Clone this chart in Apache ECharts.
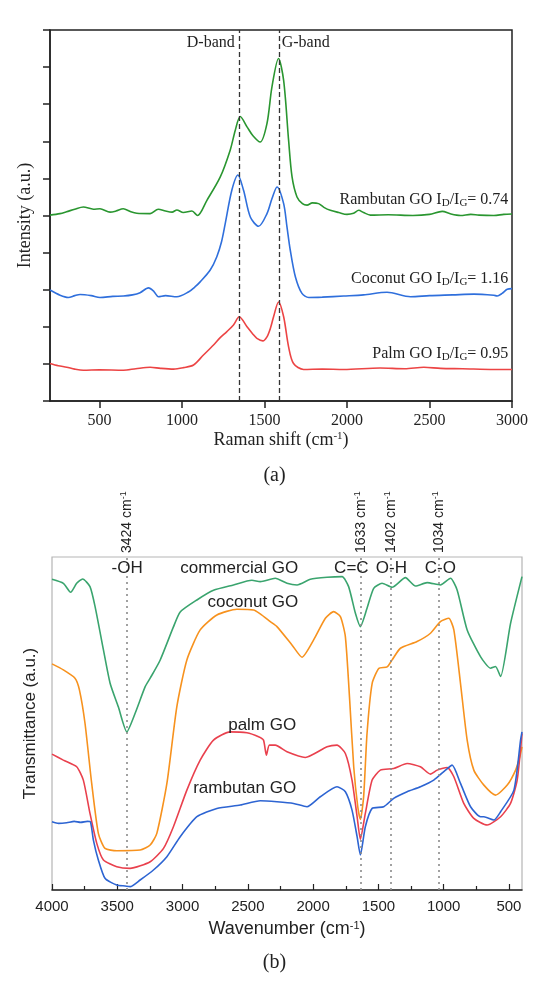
<!DOCTYPE html>
<html>
<head>
<meta charset="utf-8">
<script src="https://cdn.jsdelivr.net/npm/echarts@6/dist/echarts.min.js"></script>
<style>
  html, body { margin: 0; background: #fff; }
  #main { width: 549px; height: 996px; }
</style>
</head>
<body>
<div id="main"></div>
<script>
// ---- (a) Raman ----
const ramanTicks = [500, 1000, 1500, 2000, 2500, 3000];
const bandLines = [1345, 1587];
const idigRatios = ['0.74', '1.16', '0.95'];

const rambutanRamanX = [200, 260, 300, 350, 402, 463, 503, 564, 600, 644, 690, 726, 807, 856, 900, 940, 969, 1008, 1060, 1094, 1151, 1232, 1292, 1323, 1353, 1394, 1430, 1474, 1515, 1545, 1585, 1616, 1646, 1667, 1697, 1730, 1758, 1790, 1828, 1860, 1899, 1950, 2000, 2040, 2071, 2100, 2142, 2250, 2400, 2500, 2577, 2630, 2688, 2750, 2800, 2890, 2950, 3000];
const rambutanRamanY = [5.01, 5.05, 5.1, 5.17, 5.23, 5.17, 5.18, 5.09, 5.12, 5.18, 5.1, 5.06, 5.05, 5.17, 5.12, 5.09, 5.15, 5.08, 5.12, 5.0, 5.41, 6.04, 6.76, 7.3, 7.67, 7.39, 7.15, 6.98, 7.48, 8.46, 9.23, 8.64, 7.03, 6.04, 5.5, 5.32, 5.28, 5.34, 5.32, 5.22, 5.14, 5.08, 5.03, 5.06, 5.14, 5.08, 5.01, 5.02, 5.0, 5.03, 5.11, 5.04, 5.0, 5.03, 5.01, 5.0, 5.03, 5.04];

const coconutRamanX = [200, 261, 311, 350, 382, 450, 503, 580, 645, 700, 746, 797, 830, 857, 900, 969, 1039, 1080, 1110, 1171, 1211, 1240, 1262, 1302, 1339, 1373, 1414, 1464, 1515, 1545, 1576, 1616, 1636, 1656, 1687, 1727, 1768, 1850, 1980, 2100, 2243, 2385, 2500, 2640, 2769, 2890, 2910, 2940, 2971, 3000];
const coconutRamanY = [2.99, 2.85, 2.79, 2.84, 2.87, 2.84, 2.79, 2.82, 2.83, 2.86, 2.92, 3.05, 2.95, 2.81, 2.84, 2.81, 2.94, 3.08, 3.21, 3.53, 3.89, 4.3, 4.78, 5.68, 6.09, 5.68, 4.96, 4.71, 5.05, 5.45, 5.77, 5.32, 4.7, 4.07, 3.35, 2.9, 2.79, 2.8, 2.83, 2.86, 2.93, 2.81, 2.84, 2.86, 2.88, 2.85, 2.83, 2.9, 3.01, 3.03];

const palmRamanX = [200, 250, 301, 350, 402, 500, 645, 720, 807, 870, 948, 1010, 1070, 1130, 1191, 1230, 1272, 1312, 1347, 1394, 1430, 1454, 1490, 1515, 1535, 1555, 1585, 1616, 1646, 1676, 1737, 1850, 1980, 2200, 2350, 2466, 2567, 2700, 2890, 3000];
const palmRamanY = [1.01, 0.95, 0.91, 0.86, 0.83, 0.84, 0.83, 0.87, 0.91, 0.88, 0.86, 0.9, 0.97, 1.24, 1.51, 1.7, 1.87, 2.05, 2.27, 2.0, 1.8, 1.69, 1.62, 1.73, 1.95, 2.27, 2.67, 2.27, 1.46, 1.01, 0.85, 0.86, 0.85, 0.89, 0.87, 0.91, 0.88, 0.87, 0.85, 0.85];

// ---- (b) FTIR ----
const ftirTicks = [500, 1000, 1500, 2000, 2500, 3000, 3500, 4000];
const ftirMinorTicks = [750, 1250, 1750, 2250, 2750, 3250, 3750];
const peakMarks = [3424, 1633, 1402, 1034];
const groupNames = ['-OH', 'C=C', 'O-H', 'C-O'];
const groupPos = [3424, 1707, 1400, 1025];

const commercialX = [4000, 3913, 3857, 3811, 3765, 3709, 3670, 3606, 3555, 3492, 3427, 3364, 3287, 3248, 3172, 3070, 3018, 2890, 2763, 2610, 2469, 2405, 2290, 2200, 2123, 2021, 1893, 1778, 1728, 1676, 1638, 1587, 1536, 1472, 1395, 1293, 1216, 1127, 1025, 948, 897, 820, 718, 641, 603, 564, 488, 400];
const commercialY = [93.3, 92.1, 89.4, 92.1, 93.4, 91.1, 85.1, 72.1, 62.1, 55, 47.5, 53, 61, 63.6, 69, 79, 83.5, 87.1, 90, 91.6, 93, 92.6, 93.6, 92.1, 91.6, 93.3, 93.9, 94.1, 91.1, 83.1, 79.1, 84.6, 90.6, 92.1, 90.9, 93.8, 91.3, 92.3, 91.6, 93.6, 90.1, 78.1, 70.1, 66.6, 67.1, 64.1, 80, 94.1];

const coconutX = [4000, 3913, 3824, 3790, 3747, 3696, 3645, 3594, 3504, 3325, 3248, 3197, 3120, 3044, 2967, 2865, 2737, 2584, 2456, 2405, 2328, 2277, 2162, 2085, 1996, 1906, 1843, 1791, 1753, 1720, 1689, 1658, 1638, 1613, 1587, 1548, 1497, 1433, 1395, 1331, 1204, 1101, 1025, 961, 922, 871, 820, 769, 692, 603, 513, 449, 417, 400];
const coconutY = [67.9, 66.1, 63.6, 60.1, 50, 32, 17, 12.5, 11.8, 12, 13.5, 17, 32, 55, 69.1, 78.1, 82.6, 84.3, 84.1, 82.9, 80.6, 79.1, 73.6, 69.9, 75.1, 81.6, 83.6, 82.1, 76.1, 57.1, 37, 25, 21.2, 28, 47, 62, 66.5, 67, 69.1, 72.6, 74.6, 77.1, 80.6, 81.6, 78.1, 62, 45, 36, 31.5, 28.5, 31.5, 36, 40, 43];

const palmX = [4000, 3913, 3811, 3760, 3709, 3657, 3606, 3504, 3402, 3248, 3146, 3070, 2967, 2865, 2763, 2635, 2507, 2418, 2380, 2358, 2335, 2290, 2200, 2060, 1893, 1817, 1753, 1702, 1663, 1638, 1600, 1548, 1485, 1383, 1280, 1178, 1101, 1050, 973, 922, 846, 769, 667, 564, 488, 437, 400];
const palmY = [40.8, 39, 37, 33, 23, 14, 9, 7, 6.5, 8.5, 12.5, 19, 30, 39, 45, 47.5, 47.2, 46, 45, 40.5, 43.5, 43.5, 41.5, 39.8, 43, 43.5, 41, 33, 22, 15.2, 23, 33, 36, 36.5, 38, 37, 34.8, 36, 36.8, 34, 26, 21.5, 19.5, 22, 26, 33, 47];

const rambutanX = [4000, 3950, 3887, 3830, 3780, 3730, 3705, 3683, 3645, 3594, 3504, 3440, 3402, 3325, 3223, 3120, 3018, 2890, 2737, 2558, 2405, 2277, 2150, 2047, 1945, 1817, 1753, 1702, 1663, 1638, 1600, 1548, 1459, 1383, 1280, 1178, 1076, 986, 935, 871, 794, 718, 692, 616, 564, 462, 411, 400];
const rambutanY = [20.5, 20.0, 20.2, 20.6, 20.3, 20.6, 20.4, 15, 9, 3.5, 1.5, 1.2, 1, 3, 6, 10, 16, 22, 24.5, 25.5, 26.8, 26.5, 26, 25, 28, 31, 29.5, 24, 16, 10.5, 19, 24.5, 25, 27.5, 29.5, 31, 33, 36, 37.5, 32, 25, 22, 22, 21, 23.5, 30, 45, 47.5];

const zip = (xs, ys) => xs.map((x, i) => [x, ys[i]]);
const plain = v => String(v);

const serif = 'Liberation Serif';
const sans = 'Liberation Sans';

const ramanRich = {
  t: { fontFamily: serif, fontSize: 16, color: '#222' },
  b: { fontFamily: serif, fontSize: 11, color: '#222', verticalAlign: 'bottom', padding: [8, 0, 0, 0] }
};
const ratioLabel = (name, r) => `{t|${name} I}{b|D}{t|/I}{b|G}{t|= ${r}}`;

const ramanLabel = (x, y, text, pos) => ({
  coord: [x, y], symbolSize: 0,
  label: { show: true, position: pos, distance: 0, formatter: text, rich: ramanRich }
});

const ftirLabel = (x, y, text) => ({
  coord: [x, y], symbolSize: 0,
  label: { show: true, position: 'inside', formatter: text, fontFamily: sans, fontSize: 17, color: '#222' }
});

const chart = echarts.init(document.getElementById('main'));

chart.setOption({
  backgroundColor: '#fff',
  animation: false,
  title: [
    { text: '(a)', left: 'center', top: 461, textStyle: { fontFamily: serif, fontSize: 20, fontWeight: 'normal', color: '#222' } },
    { text: '(b)', left: 'center', top: 948, textStyle: { fontFamily: serif, fontSize: 20, fontWeight: 'normal', color: '#222' } }
  ],
  grid: [
    { left: 50, top: 30, width: 462, height: 371, show: true, borderColor: '#222', borderWidth: 1.5, containLabel: false },
    { left: 52, top: 557, width: 470, height: 333, show: true, borderColor: '#b5b5b5', borderWidth: 1.2, containLabel: false }
  ],
  xAxis: [
    {
      type: 'value', gridIndex: 0, min: 200, max: 3000,
      name: '{a|Raman shift (cm}{s|-1}{a|)}', nameLocation: 'middle', nameGap: 30,
      nameTextStyle: { rich: {
        a: { fontFamily: serif, fontSize: 18, color: '#222' },
        s: { fontFamily: serif, fontSize: 11, color: '#222', verticalAlign: 'top', padding: [0, 0, 8, 0] }
      } },
      axisLine: { lineStyle: { color: '#222', width: 1.5 } },
      axisTick: { customValues: ramanTicks, length: 7, lineStyle: { color: '#222', width: 1.5 } },
      axisLabel: { customValues: ramanTicks, formatter: plain, margin: 12, fontFamily: serif, fontSize: 16, color: '#222' },
      splitLine: { show: false }
    },
    {
      type: 'value', gridIndex: 1, min: 400, max: 4000, inverse: true, position: 'bottom',
      name: '{a|Wavenumber (cm}{s|-1}{a|)}', nameLocation: 'middle', nameGap: 30,
      nameTextStyle: { rich: {
        a: { fontFamily: sans, fontSize: 18, color: '#222' },
        s: { fontFamily: sans, fontSize: 11, color: '#222', verticalAlign: 'top', padding: [0, 0, 8, 0] }
      } },
      axisLine: { lineStyle: { color: '#222', width: 1.5 } },
      axisTick: { inside: true, customValues: ftirTicks, length: 6, lineStyle: { color: '#222', width: 1.2 } },
      axisLabel: { customValues: ftirTicks, formatter: plain, margin: 9, fontFamily: sans, fontSize: 15, color: '#222' },
      splitLine: { show: false }
    },
    {
      type: 'value', gridIndex: 1, min: 400, max: 4000, inverse: true, position: 'bottom', offset: 0,
      axisLine: { show: false },
      axisTick: { inside: true, customValues: ftirMinorTicks, length: 4, lineStyle: { color: '#222', width: 1.2 } },
      axisLabel: { show: false },
      splitLine: { show: false }
    }
  ],
  yAxis: [
    {
      type: 'value', gridIndex: 0, min: 0, max: 10, interval: 1,
      name: 'Intensity (a.u.)', nameLocation: 'middle', nameGap: 16,
      nameTextStyle: { fontFamily: serif, fontSize: 18, color: '#222' },
      axisLine: { show: true, lineStyle: { color: '#222', width: 1.5 } },
      axisTick: { show: true, length: 7, lineStyle: { color: '#222', width: 1.5 } },
      axisLabel: { show: false },
      splitLine: { show: false }
    },
    {
      type: 'value', gridIndex: 1, min: 0, max: 100,
      name: 'Transmittance (a.u.)', nameLocation: 'middle', nameGap: 13,
      nameTextStyle: { fontFamily: sans, fontSize: 17, color: '#222' },
      axisLine: { show: false },
      axisTick: { show: false },
      axisLabel: { show: false },
      splitLine: { show: false }
    }
  ],
  series: [
    {
      name: 'Rambutan GO Raman', type: 'line', xAxisIndex: 0, yAxisIndex: 0,
      data: zip(rambutanRamanX, rambutanRamanY), symbol: 'none', smooth: 0.3,
      lineStyle: { color: '#2a9630', width: 1.6 },
      markLine: {
        silent: true, symbol: ['none', 'none'], label: { show: false },
        lineStyle: { color: '#333', type: [5, 3], width: 1.3 },
        data: bandLines.map(v => ({ xAxis: v }))
      },
      markPoint: {
        silent: true,
        data: [
          ramanLabel(2978, 5.43, ratioLabel('Rambutan GO', idigRatios[0]), 'left'),
          ramanLabel(1320, 9.65, '{t|D-band}', 'left'),
          ramanLabel(1604, 9.65, '{t|G-band}', 'right')
        ]
      }
    },
    {
      name: 'Coconut GO Raman', type: 'line', xAxisIndex: 0, yAxisIndex: 0,
      data: zip(coconutRamanX, coconutRamanY), symbol: 'none', smooth: 0.3,
      lineStyle: { color: '#2f6fdc', width: 1.6 },
      markPoint: { silent: true, data: [ramanLabel(2978, 3.3, ratioLabel('Coconut GO', idigRatios[1]), 'left')] }
    },
    {
      name: 'Palm GO Raman', type: 'line', xAxisIndex: 0, yAxisIndex: 0,
      data: zip(palmRamanX, palmRamanY), symbol: 'none', smooth: 0.3,
      lineStyle: { color: '#ec4444', width: 1.6 },
      markPoint: { silent: true, data: [ramanLabel(2978, 1.28, ratioLabel('Palm GO', idigRatios[2]), 'left')] }
    },
    {
      name: 'commercial GO', type: 'line', xAxisIndex: 1, yAxisIndex: 1,
      data: zip(commercialX, commercialY), symbol: 'none', smooth: 0.2,
      lineStyle: { color: '#3aa46e', width: 1.6 },
      markLine: {
        silent: true, symbol: ['none', 'none'], label: { show: false },
        lineStyle: { color: '#8a8a8a', type: [2, 4], width: 1.6 },
        data: peakMarks.map(v => ({ xAxis: v }))
      },
      markPoint: {
        silent: true,
        data: [ftirLabel(2566, 96.7, 'commercial GO')]
          .concat(groupNames.map((g, i) => ftirLabel(groupPos[i], 96.7, g)))
          .concat(peakMarks.map(v => ({
            coord: [v, 100], symbolSize: 0,
            label: {
              show: true, position: 'top', distance: 4, rotate: 90, align: 'left', verticalAlign: 'middle',
              formatter: `{t|${v} cm}{s|-1}`,
              rich: {
                t: { fontFamily: sans, fontSize: 14, color: '#222' },
                s: { fontFamily: sans, fontSize: 9, color: '#222', verticalAlign: 'top', padding: [0, 0, 7, 0] }
              }
            }
          })))
      }
    },
    {
      name: 'coconut GO', type: 'line', xAxisIndex: 1, yAxisIndex: 1,
      data: zip(coconutX, coconutY), symbol: 'none', smooth: 0.2,
      lineStyle: { color: '#f7921e', width: 1.6 },
      markPoint: { silent: true, data: [ftirLabel(2461, 86.5, 'coconut GO')] }
    },
    {
      name: 'palm GO', type: 'line', xAxisIndex: 1, yAxisIndex: 1,
      data: zip(palmX, palmY), symbol: 'none', smooth: 0.2,
      lineStyle: { color: '#e9404d', width: 1.6 },
      markPoint: { silent: true, data: [ftirLabel(2390, 49.5, 'palm GO')] }
    },
    {
      name: 'rambutan GO', type: 'line', xAxisIndex: 1, yAxisIndex: 1,
      data: zip(rambutanX, rambutanY), symbol: 'none', smooth: 0.2,
      lineStyle: { color: '#2d64d2', width: 1.6 },
      markPoint: { silent: true, data: [ftirLabel(2524, 30.5, 'rambutan GO')] }
    }
  ]
});
</script>
</body>
</html>
